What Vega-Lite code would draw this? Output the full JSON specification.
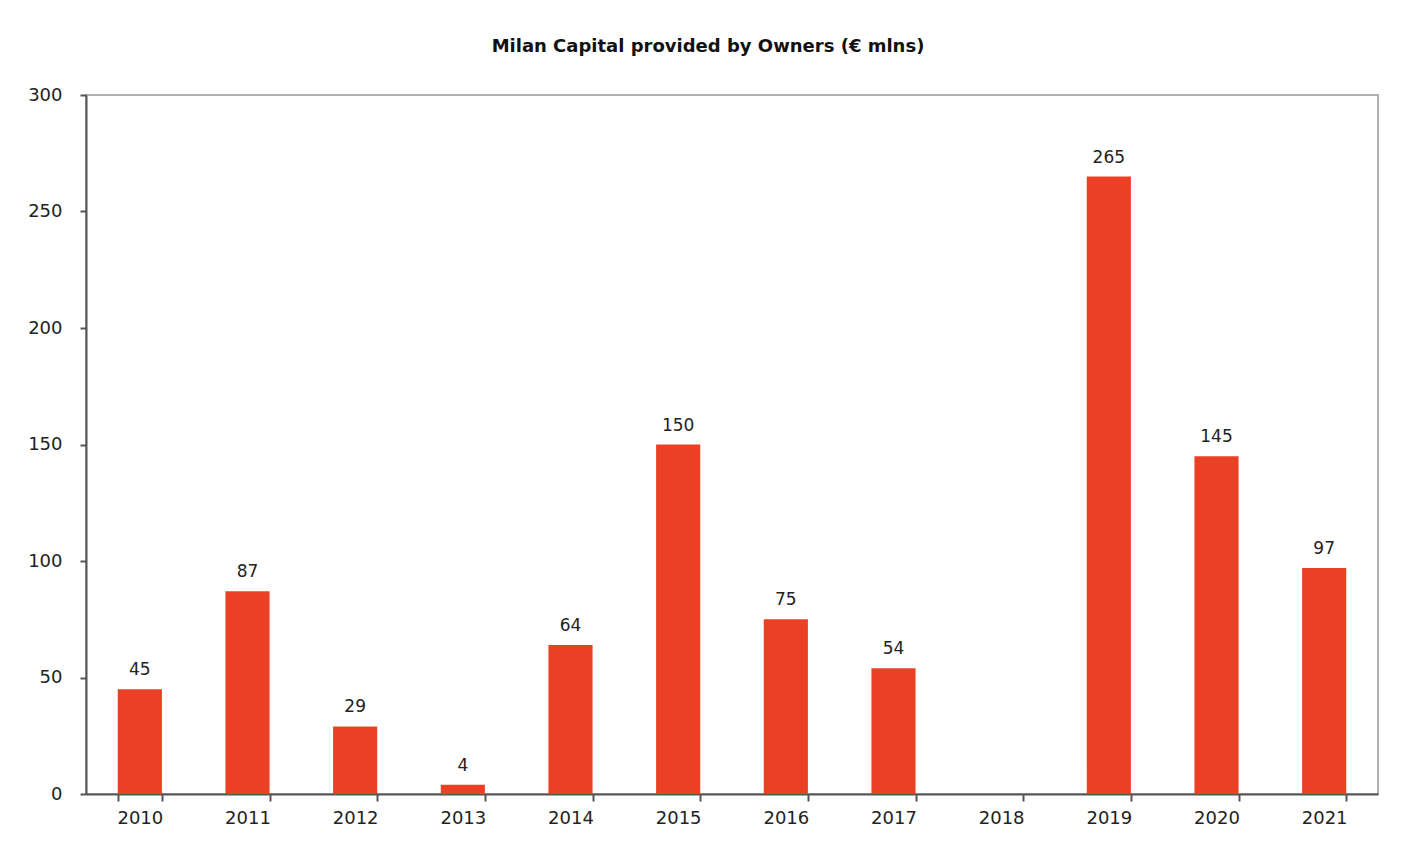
{
  "$schema": "https://vega.github.io/schema/vega-lite/v6.json",
  "width": 1292,
  "height": 699,
  "autosize": {"type": "none"},
  "padding": {"left": 86, "top": 95, "right": 30, "bottom": 67},
  "background": "white",
  "title": {
    "text": "Milan Capital provided by Owners (€ mlns)",
    "font": "DejaVu Sans",
    "fontSize": 18,
    "fontWeight": "bold",
    "color": "#111111",
    "anchor": "middle",
    "dx": -24,
    "dy": 26,
    "offset": 38,
    "baseline": "bottom"
  },
  "config": {
    "view": {"stroke": "#b0b0b0", "strokeWidth": 2},
    "axis": {
      "labelFont": "DejaVu Sans",
      "labelFontSize": 18,
      "labelColor": "#222222",
      "domainColor": "#555555",
      "domainWidth": 2,
      "tickColor": "#555555",
      "tickWidth": 2,
      "grid": false,
      "title": null
    }
  },
  "data": {
    "values": [
      {"year": "2010", "value": 45},
      {"year": "2011", "value": 87},
      {"year": "2012", "value": 29},
      {"year": "2013", "value": 4},
      {"year": "2014", "value": 64},
      {"year": "2015", "value": 150},
      {"year": "2016", "value": 75},
      {"year": "2017", "value": 54},
      {"year": "2018", "value": null},
      {"year": "2019", "value": 265},
      {"year": "2020", "value": 145},
      {"year": "2021", "value": 97}
    ]
  },
  "encoding": {
    "x": {
      "field": "year",
      "type": "ordinal",
      "scale": {
        "domain": ["2010","2011","2012","2013","2014","2015","2016","2017","2018","2019","2020","2021"],
        "paddingInner": 0.59,
        "paddingOuter": 0.295
      },
      "axis": {
        "labelAngle": 0,
        "tickBand": "extent",
        "tickSize": 7,
        "labelPadding": 8
      }
    },
    "y": {
      "field": "value",
      "type": "quantitative",
      "scale": {"domain": [0, 300], "nice": false},
      "axis": {"values": [0, 50, 100, 150, 200, 250, 300], "tickSize": 6, "labelPadding": 18}
    }
  },
  "layer": [
    {"mark": {"type": "bar", "color": "#EA4126"}},
    {
      "mark": {
        "type": "text",
        "baseline": "bottom",
        "dy": -10,
        "font": "DejaVu Sans",
        "fontSize": 17,
        "color": "#222222"
      },
      "encoding": {"text": {"field": "value", "type": "quantitative"}}
    }
  ]
}
